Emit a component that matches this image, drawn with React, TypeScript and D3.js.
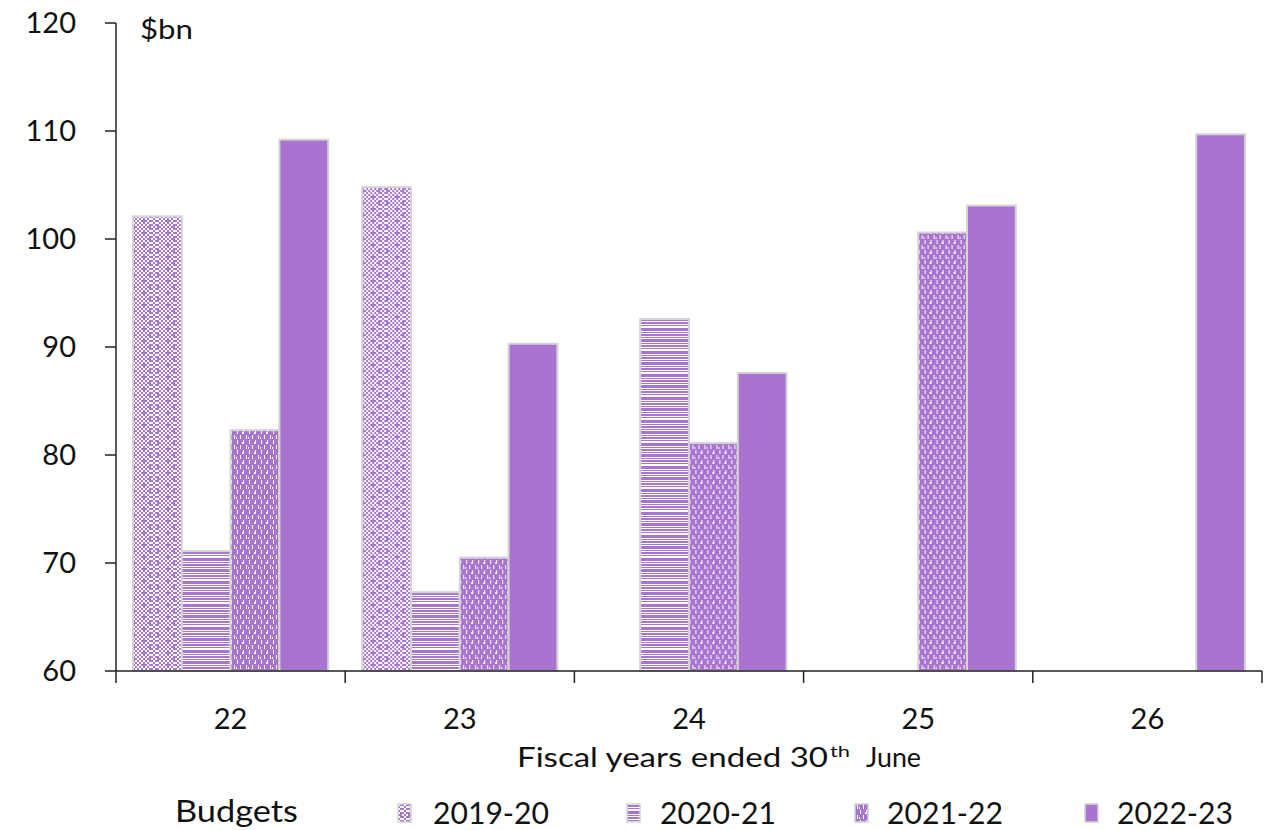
import React from "react";
import * as d3 from "d3";

const categories = ["22", "23", "24", "25", "26"];
const seriesNames = ["2019-20", "2020-21", "2021-22", "2022-23"];
const s2019: (number | null)[] = [102.1, 104.8, null, null, null];
const s2020: (number | null)[] = [71.1, 67.3, 92.6, null, null];
const s2021: (number | null)[] = [82.3, 70.5, 81.1, 100.6, null];
const s2022: (number | null)[] = [109.2, 90.3, 87.6, 103.1, 109.7];
const seriesValues = [s2019, s2020, s2021, s2022];
const yTicks = [60, 70, 80, 90, 100, 110, 120];

const W = 1273;
const H = 830;
const PURPLE = "#A974D0";
const FONT = "Lato, 'Open Sans', sans-serif";

export default function App() {
  const left = 116, right = 1262, top = 23, bottom = 671;
  const x0 = d3.scaleBand<string>().domain(categories).range([left, right]).paddingInner(0.1484).paddingOuter(0.0742);
  const x1 = d3.scaleBand<string>().domain(seriesNames).range([0, x0.bandwidth()]);
  const y = d3.scaleLinear().domain([60, 120]).range([bottom, top]);
  const step = (right - left) / categories.length;
  const fills = ["url(#p0)", "url(#p1)", "url(#p2)", PURPLE];

  const checkRows = [
    "101010101101",
    "010101010010",
    "101011101101",
    "010101010010",
    "101010101101",
    "110101011010",
  ];
  const hStripes = [[0, 2], [3, 1], [6, 3], [10, 1], [12, 2], [15, 1], [17, 3], [21, 1]];
  const vCols = [0, 3, 6, 9];

  const legendX = [398, 627, 855, 1085];
  const legendTextX = [433, 660, 887, 1117];

  return (
    <svg width={W} height={H} style={{ display: "block", position: "absolute", left: 0, top: 0, background: "#fff" }}>
      <defs>
        <pattern id="p0" patternUnits="userSpaceOnUse" width={24} height={12}>
          <rect width={24} height={12} fill="#fff" />
          {checkRows.map((row, r) =>
            row.split("").map((c, k) =>
              c === "1" ? <rect key={`${r}-${k}`} x={k * 2} y={r * 2} width={2} height={2} fill={PURPLE} /> : null
            )
          )}
        </pattern>
        <pattern id="p1" patternUnits="userSpaceOnUse" width={10} height={23}>
          <rect width={10} height={23} fill="#fff" />
          {hStripes.map(([yy, hh], i) => (
            <rect key={i} x={0} y={yy} width={10} height={hh} fill={PURPLE} />
          ))}
        </pattern>
        <pattern id="p2" patternUnits="userSpaceOnUse" width={12} height={10}>
          <rect width={12} height={10} fill={PURPLE} />
          {vCols.map((cx, i) => (
            <rect key={i} x={cx + 2} y={(i % 2) * 5} width={1} height={4} fill="#fff" />
          ))}
          <rect x={1} y={2} width={1} height={2} fill="#fff" />
          <rect x={7} y={7} width={1} height={2} fill="#fff" />
        </pattern>
      </defs>

      {categories.map((cat, ci) => (
        <g key={cat} transform={`translate(${x0(cat)},0)`}>
          {seriesNames.map((s, si) => {
            const v = seriesValues[si][ci];
            if (v == null) return null;
            return (
              <rect
                key={s}
                x={x1(s)!}
                y={y(v)}
                width={x1.bandwidth()}
                height={bottom - y(v)}
                fill={fills[si]}
                stroke="#d4d4d4"
                strokeWidth={2}
              />
            );
          })}
        </g>
      ))}

      <line x1={left} x2={left} y1={top} y2={bottom} stroke="#222" strokeWidth={1.5} />
      {yTicks.map((t) => (
        <g key={t}>
          <line x1={left - 11} x2={left} y1={y(t)} y2={y(t)} stroke="#222" strokeWidth={1.5} />
          <text x={76} y={y(t)} dy="0.36em" textAnchor="end" fontFamily={FONT} fontSize={29} fill="#111">
            {t}
          </text>
        </g>
      ))}
      <text x={140} y={39} fontFamily={FONT} fontSize={27} fill="#111" textLength={53} lengthAdjust="spacingAndGlyphs">$bn</text>

      <line x1={left} x2={right} y1={bottom} y2={bottom} stroke="#222" strokeWidth={1.5} />
      {d3.range(categories.length + 1).map((i) => (
        <line key={i} x1={left + i * step} x2={left + i * step} y1={bottom} y2={bottom + 12} stroke="#222" strokeWidth={1.5} />
      ))}
      {categories.map((cat, i) => (
        <text key={cat} x={left + (i + 0.5) * step} y={729} textAnchor="middle" fontFamily={FONT} fontSize={29} fill="#111">
          {cat}
        </text>
      ))}
      <text x={517} y={767} fontFamily={FONT} fontSize={27} fill="#111" textLength={311} lengthAdjust="spacingAndGlyphs">
        Fiscal years ended 30
      </text>
      <text x={830} y={757} fontFamily={FONT} fontSize={16} fill="#111" textLength={20} lengthAdjust="spacingAndGlyphs">th</text>
      <text x={866} y={767} fontFamily={FONT} fontSize={27} fill="#111" textLength={55} lengthAdjust="spacingAndGlyphs">June</text>

      <text x={175} y={822} fontFamily={FONT} fontSize={30} fill="#111" textLength={123} lengthAdjust="spacingAndGlyphs">Budgets</text>
      {seriesNames.map((s, i) => (
        <g key={s}>
          <rect x={legendX[i]} y={804} width={13} height={18} fill={fills[i]} stroke="#d4d4d4" strokeWidth={1.5} />
          <text x={legendTextX[i]} y={824} fontFamily={FONT} fontSize={31} fill="#111" textLength={116} lengthAdjust="spacingAndGlyphs">
            {s}
          </text>
        </g>
      ))}
    </svg>
  );
}
